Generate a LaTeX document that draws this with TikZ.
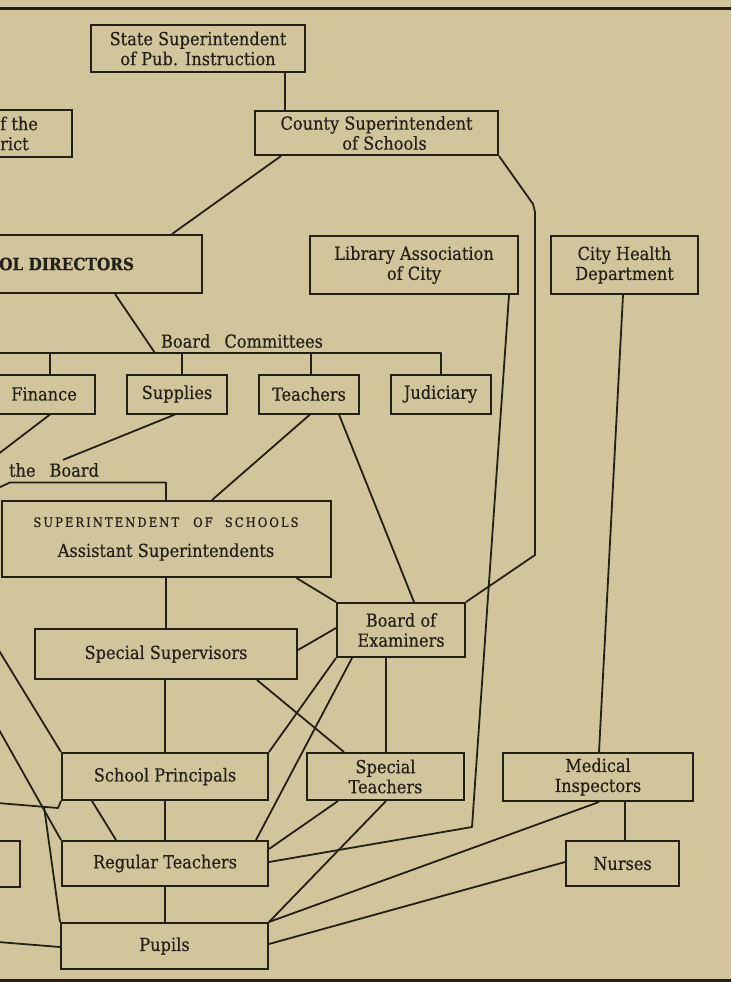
\documentclass[tikz,border=0pt]{standalone}
\usepackage{fontspec}
\setmainfont{DejaVu Serif Condensed}[FakeBold=0.4]
\newfontfamily\spacedcaps[LetterSpace=15,FakeBold=0.4]{DejaVu Serif Condensed}
\usepackage{tikz}
\usetikzlibrary{calc}
\definecolor{paper}{RGB}{209,198,155}
\definecolor{ink}{RGB}{38,31,24}

\begin{document}
\begin{tikzpicture}[
  x=1pt, y=-1pt,
  box/.style={draw=ink, line width=2pt, inner sep=0pt, align=center, text=ink, font=\fontsize{18}{20}\selectfont},
  caption/.style={inner sep=0pt, text=ink, font=\fontsize{18}{20}\selectfont},
  link/.style={draw=ink, line width=1.8pt, line join=round},
  rule/.style={draw=ink, line width=2.5pt},
]
\fill[paper] (0,0) rectangle (731,982);
\useasboundingbox (0,0) rectangle (731,982);
\clip (0,0) rectangle (731,982);

% Rules
\draw[rule] (0,8.5) -- (731,8.5);
\draw[rule] (0,980.5) -- (731,980.5);

% Nodes
\node[box, minimum width=214pt, minimum height=47pt] (state) at (198,48.5) {State Superintendent\\of Pub. Instruction};
\node[box, minimum width=243pt, minimum height=44pt] (county) at (376.5,133) {County Superintendent\\\hspace{16pt}of Schools};
\node[box, minimum width=200pt, minimum height=47pt, anchor=east] (district) at (73,133.5) {};
\node[caption, anchor=west, align=left] (districttext) at (0,133.5) {f the\\rict};
\node[box, minimum width=300pt, minimum height=58pt, anchor=east] (directors) at (203,264) {};
\node[caption, anchor=west, font=\fontsize{17}{20}\selectfont\bfseries] (directorstext) at (-1,264) {OL DIRECTORS};
\node[box, minimum width=208pt, minimum height=58pt] (library) at (414,265) {Library Association\\of City};
\node[box, minimum width=147pt, minimum height=58pt] (health) at (624.5,265) {City Health\\Department};

\node[caption] (committees) at (242,341) {Board\hspace{14pt}Committees};
\node[box, minimum width=102pt, minimum height=39pt] (finance) at (44,394) {Finance};
\node[box, minimum width=100pt, minimum height=39pt] (supplies) at (177,394) {Supplies};
\node[box, minimum width=100pt, minimum height=39pt] (teachers) at (309,394) {Teachers};
\node[box, minimum width=100pt, minimum height=39pt] (judiciary) at (440.5,394) {Judiciary};

\node[caption] (secretary) at (54,470) {the\hspace{14pt}Board};
\node[box, minimum width=329pt, minimum height=76pt] (supt) at (166,539)
  {{\fontsize{13}{15}\selectfont\spacedcaps SUPERINTENDENT\hspace{14pt}OF\hspace{12pt}SCHOOLS}\\[10pt]Assistant Superintendents};
\node[box, minimum width=128pt, minimum height=54pt] (examiners) at (401,630) {Board of\\Examiners};
\node[box, minimum width=262pt, minimum height=50pt] (supervisors) at (166,654) {Special Supervisors};

\node[box, minimum width=206pt, minimum height=47pt] (principals) at (165,776.5) {School Principals};
\node[box, minimum width=157pt, minimum height=47pt] (specteach) at (385.5,776.5) {Special\\Teachers};
\node[box, minimum width=190pt, minimum height=48pt] (medical) at (598,777) {Medical\\Inspectors};
\node[box, minimum width=206pt, minimum height=45pt] (regular) at (165,863.5) {Regular Teachers};
\node[box, minimum width=113pt, minimum height=45pt] (nurses) at (622.5,863.5) {Nurses};
\node[box, minimum width=60pt, minimum height=46pt, anchor=east] (leftbox) at (21,864) {};
\node[box, minimum width=207pt, minimum height=46pt] (pupils) at (164.5,946) {Pupils};

% Free ends at the cut edge
\coordinate (cutA) at (-3,455);
\coordinate (cutB) at (-2,488);
\coordinate (cutC) at (-2,649);
\coordinate (cutD) at (-2,728);
\coordinate (cutE) at (-2,803);
\coordinate (cutF) at (44,806.5);
\coordinate (cutG) at (-2,942);

% Lines
\draw[link] ($(state.south)+(87,0)$) -- ($(county.north)+(-91.5,0)$);
\draw[link] ($(county.south west)+(27,0)$) -- ($(directors.north east)+(-31,0)$);
\draw[link] (county.south east) -- (533,204) -- (535,212) -- (535,555) -- (examiners.north east);
\draw[link] ($(directors.south east)+(-88,0)$) -- (155,353);
\draw[link] (-5,353) -| ($(judiciary.north)+(0.5,0)$);
\draw[link] ($(finance.north)+(6,0)$) -- ++(0,-21.5);
\draw[link] ($(supplies.north)+(5,0)$) -- ++(0,-21.5);
\draw[link] ($(teachers.north)+(2,0)$) -- ++(0,-21.5);
\draw[link] ($(finance.south)+(6,0)$) -- (cutA);
\draw[link] ($(supplies.south)+(-2,0)$) -- ($(secretary.north)+(9,-3)$);
\draw[link] (cutB) -- (10,482.5) -| (supt.north);
\draw[link] ($(teachers.south)+(1,0)$) -- ($(supt.north)+(46,0)$);
\draw[link] ($(teachers.south)+(30,0)$) -- ($(examiners.north)+(13,0)$);
\draw[link] ($(supt.south east)+(-35,0)$) -- (examiners.north west);
\draw[link] ($(library.south east)+(-10,0)$) -- (472,827) -- ($(regular.east)+(0,-1.5)$);
\draw[link] ($(health.south)+(-1.5,0)$) -- ($(medical.north)+(1,0)$);

\draw[link] (supt.south) -- (supt.south |- supervisors.north);
\draw[link] ($(supervisors.east)+(0,-4)$) -- ($(examiners.west)+(0,-2)$);
\draw[link] ($(supervisors.south east)+(-41,0)$) -- ($(specteach.north west)+(38,0)$);
\draw[link] ($(examiners.south)+(-15,0)$) -- ($(specteach.north)+(0.5,0)$);
\draw[link] (examiners.south west) -- (principals.north east);
\draw[link] ($(examiners.south west)+(16,0)$) -- ($(regular.north east)+(-13,0)$);

\draw[link] (principals.north |- supervisors.south) -- (principals.north);
\draw[link] (principals.south) -- (regular.north);
\draw[link] (regular.south) -- (regular.south |- pupils.north);
\draw[link] ($(principals.south west)+(31,0)$) -- ($(regular.north west)+(55,0)$);
\draw[link] ($(specteach.south west)+(32,0)$) -- ($(regular.north east)+(0,9)$);
\draw[link] ($(specteach.south)+(0.5,0)$) -- (pupils.north east);
\draw[link] ($(medical.south)+(1,0)$) -- (pupils.north east);
\draw[link] ($(medical.south)+(27,0)$) -- ($(nurses.north)+(2.5,0)$);
\draw[link] ($(nurses.west)+(0,-1.5)$) -- ($(pupils.east)+(0,-2)$);

\draw[link] (cutC) -- (principals.north west);
\draw[link] (cutD) -- (regular.north west);
\draw[link] (cutE) -- (58,808) -- (principals.south west);
\draw[link] (cutF) -- (pupils.north west);
\draw[link] (cutG) -- ($(pupils.west)+(0,1)$);

\end{tikzpicture}
\end{document}
